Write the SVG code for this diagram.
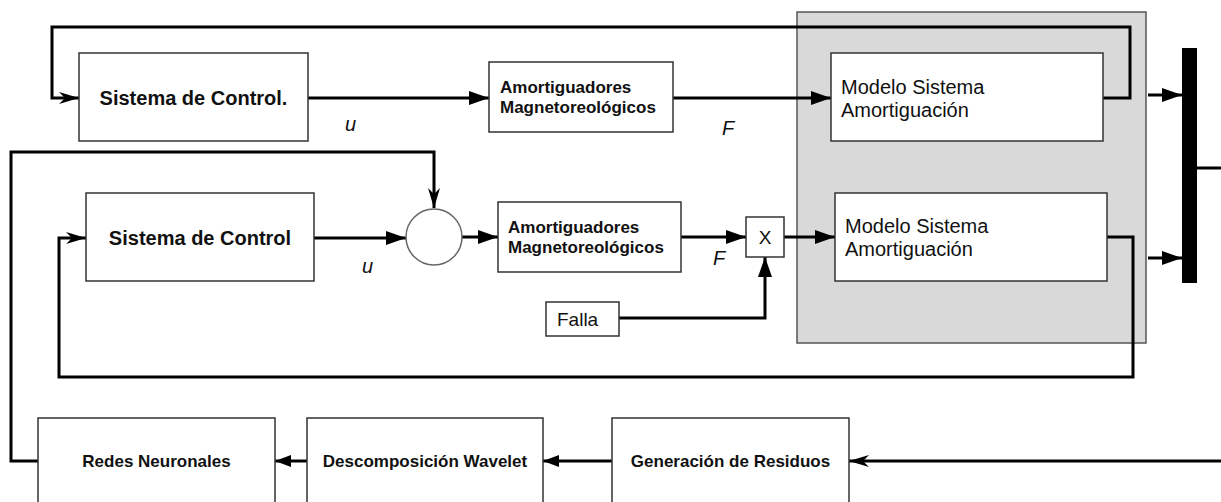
<svg xmlns="http://www.w3.org/2000/svg" width="1221" height="502" viewBox="0 0 1221 502">
<style>
.box{fill:#fff;stroke:#333;stroke-width:1.5}
.wire{fill:none;stroke:#000;stroke-width:3;stroke-linejoin:miter}
.tb{font-family:"Liberation Sans",Arial,sans-serif;font-weight:bold;fill:#111}
.tr{font-family:"Liberation Sans",Arial,sans-serif;fill:#111}
.ti{font-family:"Liberation Sans",Arial,sans-serif;font-style:italic;fill:#111;font-size:20px}
</style>
<defs>
<marker id="fa" markerUnits="userSpaceOnUse" viewBox="0 0 20 14" refX="20" refY="7" markerWidth="20" markerHeight="14" orient="auto">
<path d="M0,0 L20,7 L0,14 z" fill="#000"/>
</marker>
<marker id="fs" markerUnits="userSpaceOnUse" viewBox="0 0 16 12" refX="16" refY="6" markerWidth="16" markerHeight="12" orient="auto">
<path d="M0,0 L16,6 L0,12 z" fill="#000"/>
</marker>
<marker id="st" markerUnits="userSpaceOnUse" viewBox="0 0 20 12" refX="20" refY="6" markerWidth="20" markerHeight="12" orient="auto">
<path d="M0,0 L20,6 L0,12 L6,6 z" fill="#000"/>
</marker>
</defs>

<g id="gray-region">
<rect x="797" y="12" width="349" height="331" fill="#d9d9d9" stroke="#555" stroke-width="1.5"/>
</g>

<g id="connectors">
<path class="wire" d="M1103,98 H1130 V27 H52 V98 H79" marker-end="url(#st)"/>
<path class="wire" d="M308,98 H489" marker-end="url(#fa)"/>
<path class="wire" d="M673,98 H831" marker-end="url(#fa)"/>
<path class="wire" d="M1148,95 H1182" stroke-width="2.5" marker-end="url(#fa)"/>
<path class="wire" d="M1148,258 H1182" stroke-width="2.5" marker-end="url(#fa)"/>
<path class="wire" d="M1197,168 H1221"/>
<path class="wire" d="M38,461 H11 V152 H434 V208" marker-end="url(#st)"/>
<path class="wire" d="M314,238 H406" marker-end="url(#fa)"/>
<path class="wire" d="M462,237 H498" marker-end="url(#fa)"/>
<path class="wire" d="M681,237 H746" marker-end="url(#fa)"/>
<path class="wire" d="M784,237 H835" marker-end="url(#fa)"/>
<path class="wire" d="M619,318 H765 V257" marker-end="url(#fa)"/>
<path class="wire" d="M1107,237 H1133 V377 H59 V238 H86" marker-end="url(#st)"/>
<path class="wire" d="M1221,461 H849" marker-end="url(#st)"/>
<path class="wire" d="M612,461 H543" marker-end="url(#fs)"/>
<path class="wire" d="M307,461 H275" marker-end="url(#fs)"/>
</g>

<g id="sistema-control-1">
<rect class="box" x="79" y="53" width="229" height="88"/>
<text class="tb" x="193.5" y="105" font-size="20" text-anchor="middle">Sistema de Control.</text>
</g>
<g id="label-u1"><text class="ti" x="345" y="131">u</text></g>

<g id="amortiguadores-1">
<rect class="box" x="489" y="62" width="184" height="70"/>
<text class="tb" x="500" y="93" font-size="17">Amortiguadores</text>
<text class="tb" x="500" y="113" font-size="17">Magnetoreológicos</text>
</g>
<g id="label-F1"><text class="ti" x="722" y="135">F</text></g>

<g id="modelo-1">
<rect class="box" x="831" y="53" width="272" height="88"/>
<text class="tr" x="841" y="94" font-size="20">Modelo Sistema</text>
<text class="tr" x="841" y="117" font-size="20">Amortiguación</text>
</g>

<g id="bus-bar">
<rect x="1182" y="48" width="15" height="235" fill="#000"/>
</g>

<g id="sistema-control-2">
<rect class="box" x="86" y="193" width="228" height="88"/>
<text class="tb" x="200" y="245" font-size="20" text-anchor="middle">Sistema de Control</text>
</g>
<g id="label-u2"><text class="ti" x="362" y="273">u</text></g>

<g id="sum-circle">
<circle cx="434" cy="237" r="28" fill="#fff" stroke="#666" stroke-width="1.5"/>
</g>

<g id="amortiguadores-2">
<rect class="box" x="498" y="202" width="183" height="70"/>
<text class="tb" x="508" y="233" font-size="17">Amortiguadores</text>
<text class="tb" x="508" y="253" font-size="17">Magnetoreológicos</text>
</g>
<g id="label-F2"><text class="ti" x="713" y="265">F</text></g>

<g id="multiplier">
<rect class="box" x="746" y="217" width="38" height="40"/>
<text class="tr" x="765" y="244" font-size="19" text-anchor="middle">X</text>
</g>

<g id="falla">
<rect class="box" x="546" y="302" width="73" height="34"/>
<text class="tr" x="557" y="326" font-size="19">Falla</text>
</g>

<g id="modelo-2">
<rect class="box" x="835" y="193" width="272" height="88"/>
<text class="tr" x="845" y="233" font-size="20">Modelo Sistema</text>
<text class="tr" x="845" y="256" font-size="20">Amortiguación</text>
</g>

<g id="redes-neuronales">
<rect class="box" x="38" y="418" width="237" height="110"/>
<text class="tb" x="156.5" y="467" font-size="17" text-anchor="middle">Redes Neuronales</text>
</g>
<g id="descomposicion-wavelet">
<rect class="box" x="307" y="418" width="236" height="110"/>
<text class="tb" x="425" y="467" font-size="17" text-anchor="middle">Descomposición Wavelet</text>
</g>
<g id="generacion-residuos">
<rect class="box" x="612" y="418" width="237" height="110"/>
<text class="tb" x="730.5" y="467" font-size="17" text-anchor="middle">Generación de Residuos</text>
</g>
</svg>
